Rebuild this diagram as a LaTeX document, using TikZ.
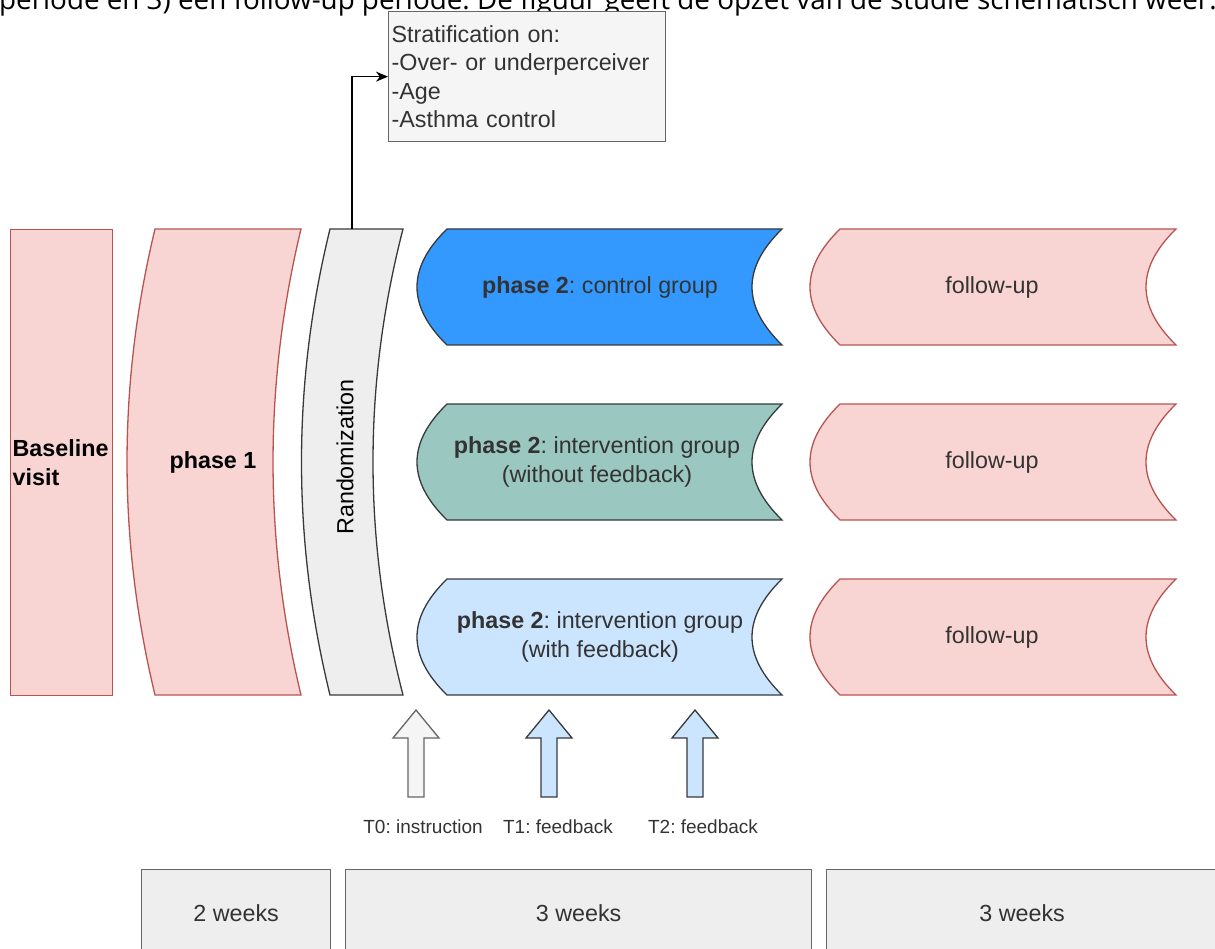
\documentclass[tikz,border=0pt]{standalone}
\usepackage{fontspec}
\setmainfont{Liberation Sans}
\newfontfamily\introfont{Open Sans}
\usetikzlibrary{arrows.meta}
\definecolor{pinkfill}{HTML}{F8D5D2}
\definecolor{pinkline}{HTML}{B85450}
\definecolor{greyfill}{HTML}{EEEEEE}
\definecolor{lightfill}{HTML}{F5F5F5}
\definecolor{greyline}{HTML}{666666}
\definecolor{darkline}{HTML}{36393D}
\definecolor{ctrlblue}{HTML}{3399FF}
\definecolor{nofbteal}{HTML}{9AC7BF}
\definecolor{fbblue}{HTML}{CCE5FF}
\definecolor{darktext}{HTML}{333333}
\frenchspacing
\begin{document}
\begin{tikzpicture}[
x=1pt,y=-1pt,
font=\fontsize{23.3}{28.5}\selectfont,
pinkshape/.style={fill=pinkfill,draw=pinkline,line width=1.3pt},
greyshape/.style={fill=greyfill,draw=darkline,line width=1.3pt},
groupshape/.style={draw=darkline,line width=1.3pt},
label/.style={align=center,text=darktext},
strat/.style={draw=greyline,fill=lightfill,line width=1.3pt,text=darktext,align=left,text width=271pt,inner xsep=3pt,minimum height=130pt},
tarrow/.style={draw=greyline,line width=1.3pt},
tlabel/.style={text=darktext,font=\fontsize{19}{23}\selectfont},
weekbox/.style={draw=greyline,fill=greyfill,line width=1.3pt,text=darktext,anchor=north west,minimum height=88pt},
]
\useasboundingbox(0,0)rectangle(1215,949);
\clip(0,0)rectangle(1215,949);
%text above the figure
\node[anchor=base west,inner sep=0,font=\introfont\fontsize{27.8}{32}\selectfont](intro)at(-1,10){periode en 3) een follow-up periode. De figuur geeft de opzet van de studie schematisch weer.};
%baseline visit
\node[pinkshape,anchor=north west,text width=98pt,inner xsep=2pt,minimum height=466pt,align=left,font=\fontsize{23.3}{28.5}\selectfont\bfseries](base)at(10,229){Baseline\\visit};
%phase 1
\draw[pinkshape](155,229)--(301,229)..controls(263.7,384)and(263.7,540)..(301,695)--(155,695)..controls(117.7,540)and(117.7,384)..cycle;
\node[font=\fontsize{23.3}{28.5}\selectfont\bfseries](ph1)at(213,462){phase 1};
%randomization
\draw[greyshape](330,229)--(403,229)..controls(363,384)and(363,540)..(403,695)--(330,695)..controls(292,540)and(292,384)..cycle;
\node[rotate=90](rand)at(345,457){Randomization};
\coordinate(randtop)at(352,229);
%stratification
\node[strat,anchor=north west](strat)at(388,11){Stratification on:\\-Over- or underperceiver\\-Age\\-Asthma control};
\draw[-{Stealth[length=12pt,width=10pt]},line width=1.3pt](randtop)|-(strat.west);
%phase 2 - control group
\draw[groupshape,fill=ctrlblue](447,229)--(782,229)..controls(742,268)and(742,306)..(782,345)--(447,345)..controls(407,306)and(407,268)..cycle;
\node[label](ctrl)at(600,287){\textbf{phase 2}: control group};
%phase 2 - intervention without feedback
\draw[groupshape,fill=nofbteal](447,404)--(782,404)..controls(742,443)and(742,481)..(782,520)--(447,520)..controls(407,481)and(407,443)..cycle;
\node[label](nofb)at(597,462){\textbf{phase 2}: intervention group\\(without feedback)};
%phase 2 - intervention with feedback
\draw[groupshape,fill=fbblue](447,579)--(782,579)..controls(742,618)and(742,656)..(782,695)--(447,695)..controls(407,656)and(407,618)..cycle;
\node[label](withfb)at(600,637){\textbf{phase 2}: intervention group\\(with feedback)};
%follow-up
\draw[pinkshape](840,229)--(1176,229)..controls(1136,268)and(1136,306)..(1176,345)--(840,345)..controls(800,306)and(800,268)..cycle;
\node[label](fu1)at(992,287){follow-up};
\draw[pinkshape](840,404)--(1176,404)..controls(1136,443)and(1136,481)..(1176,520)--(840,520)..controls(800,481)and(800,443)..cycle;
\node[label](fu2)at(992,462){follow-up};
\draw[pinkshape](840,579)--(1176,579)..controls(1136,618)and(1136,656)..(1176,695)--(840,695)..controls(800,656)and(800,618)..cycle;
\node[label](fu3)at(992,637){follow-up};
%moments T0 - T2
\draw[tarrow,fill=lightfill,shift={(416,0)}](-8,797)--(-8,738)--(-23,738)--(0,710)--(23,738)--(8,738)--(8,797)--cycle;
\node[tlabel](t0)at(423,827){T0: instruction};
\draw[tarrow,draw=darkline,fill=fbblue,shift={(549,0)}](-8,797)--(-8,738)--(-23,738)--(0,710)--(23,738)--(8,738)--(8,797)--cycle;
\node[tlabel](t1)at(558,827){T1: feedback};
\draw[tarrow,draw=darkline,fill=fbblue,shift={(695,0)}](-8,797)--(-8,738)--(-23,738)--(0,710)--(23,738)--(8,738)--(8,797)--cycle;
\node[tlabel](t2)at(703,827){T2: feedback};
%durations
\node[weekbox,minimum width=189pt](wk1)at(141,869){2 weeks};
\node[weekbox,minimum width=466pt](wk2)at(345,869){3 weeks};
\node[weekbox,minimum width=391pt](wk3)at(826,869){3 weeks};
\end{tikzpicture}
\end{document}
